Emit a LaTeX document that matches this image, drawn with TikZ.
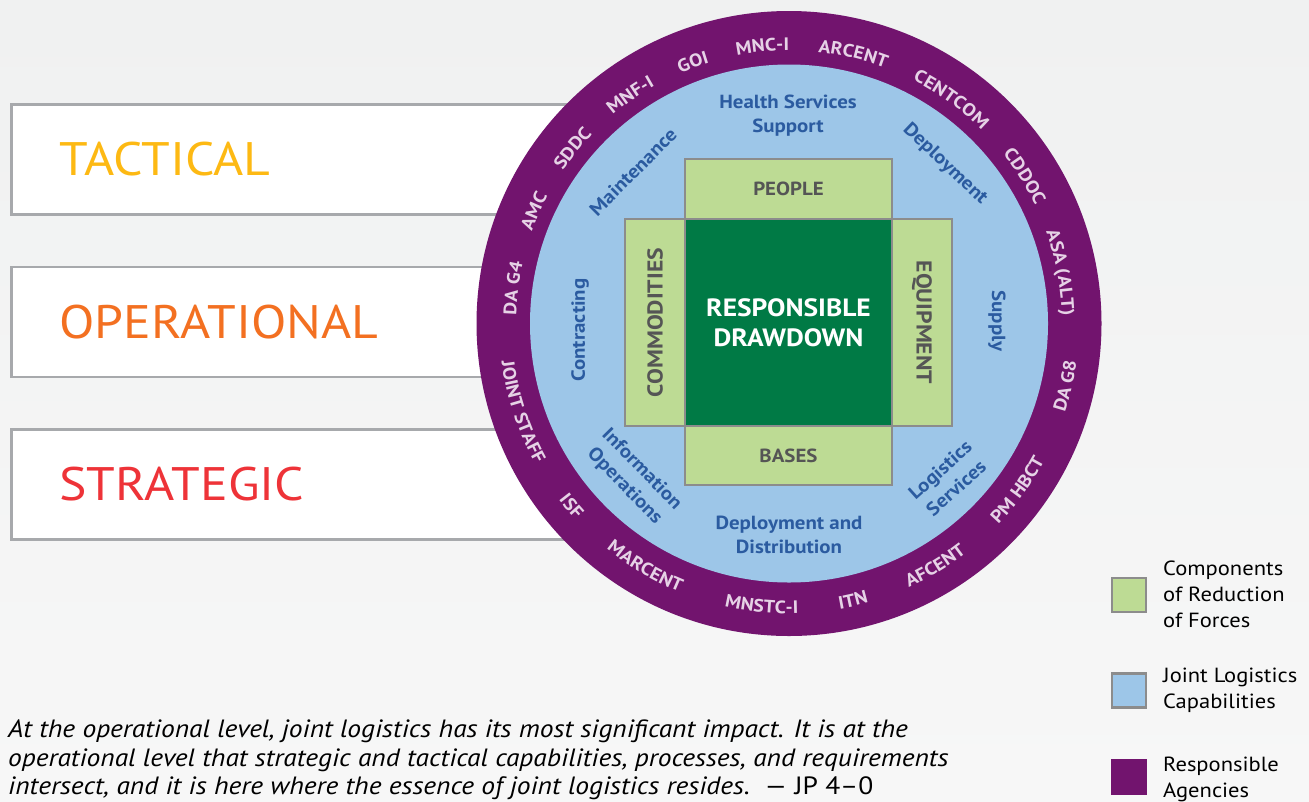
\documentclass[tikz,border=0pt]{standalone}
\usepackage{fontspec}
\setmainfont[FakeStretch=1.1]{PT Sans}
\newfontfamily\quotefont[FakeStretch=1.1]{PT Sans}
\usetikzlibrary{decorations.text}

\definecolor{agency}{HTML}{72146E}
\definecolor{capab}{HTML}{9DC6E8}
\definecolor{comp}{HTML}{BDDB94}
\definecolor{drawdn}{HTML}{007A45}
\definecolor{boxline}{HTML}{8C8C8C}
\definecolor{levelline}{HTML}{A7A9AC}
\definecolor{captxt}{HTML}{2B5BA0}
\definecolor{comptxt}{HTML}{555555}
\definecolor{ringtxt}{HTML}{E6D2E6}
\definecolor{tactc}{HTML}{FDB913}
\definecolor{operc}{HTML}{F37021}
\definecolor{stratc}{HTML}{EE3338}
\definecolor{bgtop}{HTML}{F0F1F1}
\definecolor{bgbot}{HTML}{F7F7F7}

% agency names round the ring
\newcommand\ringfont{\fontsize{18}{18}\selectfont\bfseries}
\newcommand\cwlabel[2]{\path[decorate,decoration={text along path,text align=center,
    text color=ringtxt,text={|\ringfont|#2}}]
    (c) ++(#1+25:273) arc[start angle=#1+25,end angle=#1-25,radius=273];}
\newcommand\ccwlabel[2]{\path[decorate,decoration={text along path,text align=center,
    text color=ringtxt,text={|\ringfont|#2}}]
    (c) ++(#1-25:290) arc[start angle=#1-25,end angle=#1+25,radius=290];}

\begin{document}
\begin{tikzpicture}[
        x=1pt, y=1pt,
        levelbox/.style = {draw=levelline, line width=2.5pt, fill=white, anchor=west,
            minimum height=110pt, text width=684pt, inner xsep=48pt, align=left,
            font=\fontsize{47}{47}\selectfont},
        compbox/.style = {draw=boxline, line width=2.5pt, fill=comp, text=comptxt,
            inner sep=0pt, font=\fontsize{19}{19}\selectfont\bfseries},
        captext/.style = {text=captxt, align=center, inner sep=0pt,
            font=\fontsize{19}{24}\selectfont\bfseries},
        keybox/.style = {minimum size=34pt, inner sep=0pt},
        keytext/.style = {anchor=west, align=left, inner sep=0pt,
            font=\fontsize{20.5}{26}\selectfont},
    ]
        \useasboundingbox (0,0) rectangle (1309,-801);
        \shade[top color=bgtop, bottom color=bgbot] (0,0) rectangle (1309,-801);
        %
        \node[levelbox, text=tactc] (tact) at (10,-159.5) {TACTICAL};
        \node[levelbox, text=operc] (oper) at (10,-322) {OPERATIONAL};
        \node[levelbox, text=stratc] (strat) at (10,-484.5) {STRATEGIC};
        %
        \node[circle, fill=agency, minimum size=625pt, inner sep=0pt] (ring) at (789,-323.5) {};
        \node[circle, fill=capab, minimum size=518pt, inner sep=0pt] (capring) at (ring.center) {};
        \coordinate (c) at (ring.center);
        %
        \cwlabel{172.7}{DA G4}
        \cwlabel{156.2}{AMC}
        \cwlabel{141}{SDDC}
        \cwlabel{124.8}{MNF-I}
        \cwlabel{110.2}{GOI}
        \cwlabel{95.5}{MNC-I}
        \cwlabel{76.6}{ARCENT}
        \cwlabel{54.1}{CENTCOM}
        \cwlabel{32}{CDDOC}
        \cwlabel{10.6}{ASA (ALT)}
        \ccwlabel{-12.7}{DA G8}
        \ccwlabel{-36}{PM HBCT}
        \ccwlabel{-58.9}{AFCENT}
        \ccwlabel{-77}{ITN}
        \ccwlabel{-95.5}{MNSTC-I}
        \ccwlabel{-120.6}{MARCENT}
        \ccwlabel{-140}{ISF}
        \ccwlabel{-161.7}{JOINT STAFF}
        %
        \node[captext] (health) at (788,-116) {Health Services\\Support};
        \node[captext, rotate=45] (maint) at (633,-172) {Maintenance};
        \node[captext, rotate=-43.5] (deploy) at (945,-164) {Deployment};
        \node[captext, rotate=90] (contr) at (580,-330) {Contracting};
        \node[captext, rotate=-90] (supply) at (997,-321) {Supply};
        \node[captext, rotate=-45.5] (info) at (633,-478) {Information\\Operations};
        \node[captext, rotate=42] (logis) at (948,-479) {Logistics\\Services};
        \node[captext] (distr) at (789,-535) {Deployment and\\Distribution};
        %
        \node[compbox, minimum width=207pt, minimum height=60pt] (people) at (788.5,-189) {PEOPLE};
        \node[compbox, minimum width=207pt, minimum height=59pt] (bases) at (788.5,-455.5) {BASES};
        \node[compbox, minimum width=207pt, minimum height=60pt, rotate=90,
            font=\fontsize{21.5}{21.5}\selectfont\bfseries] (commod) at (655,-322.5) {COMMODITIES};
        \node[compbox, minimum width=207pt, minimum height=60pt, rotate=-90,
            font=\fontsize{21.5}{21.5}\selectfont\bfseries] (equip) at (922,-322.5) {EQUIPMENT};
        \node[fill=drawdn, minimum size=204.5pt, inner sep=0pt, text=white, align=center,
            font=\fontsize{25}{30}\selectfont\bfseries] (core) at (788.5,-322.5) {RESPONSIBLE\\DRAWDOWN};
        %
        \node[keybox, compbox, minimum size=34pt] (keycomp) at (1129,-595) {};
        \node[keybox, draw=boxline, line width=2.5pt, fill=capab] (keycap) at (1129,-690.5) {};
        \node[keybox, fill=agency, minimum size=36pt] (keyag) at (1129,-776.5) {};
        \node[keytext] (keycompt) at (1163,-594) {Components\\of Reduction\\of Forces};
        \node[keytext] (keycapt) at (1163,-690) {Joint Logistics\\Capabilities};
        \node[keytext] (keyagt) at (1163,-779) {Responsible\\Agencies};
        %
        \node[anchor=north west, align=left, inner sep=0pt,
            font=\quotefont\fontsize{25}{28.5}\selectfont\itshape] (quote) at (8,-720)
            {At the operational level, joint logistics has its most significant impact. It is at the\\
             operational level that strategic and tactical capabilities, processes, and requirements\\
             intersect, and it is here where the essence of joint logistics resides.\ \ {\upshape — JP 4–0}};
\end{tikzpicture}
\end{document}
